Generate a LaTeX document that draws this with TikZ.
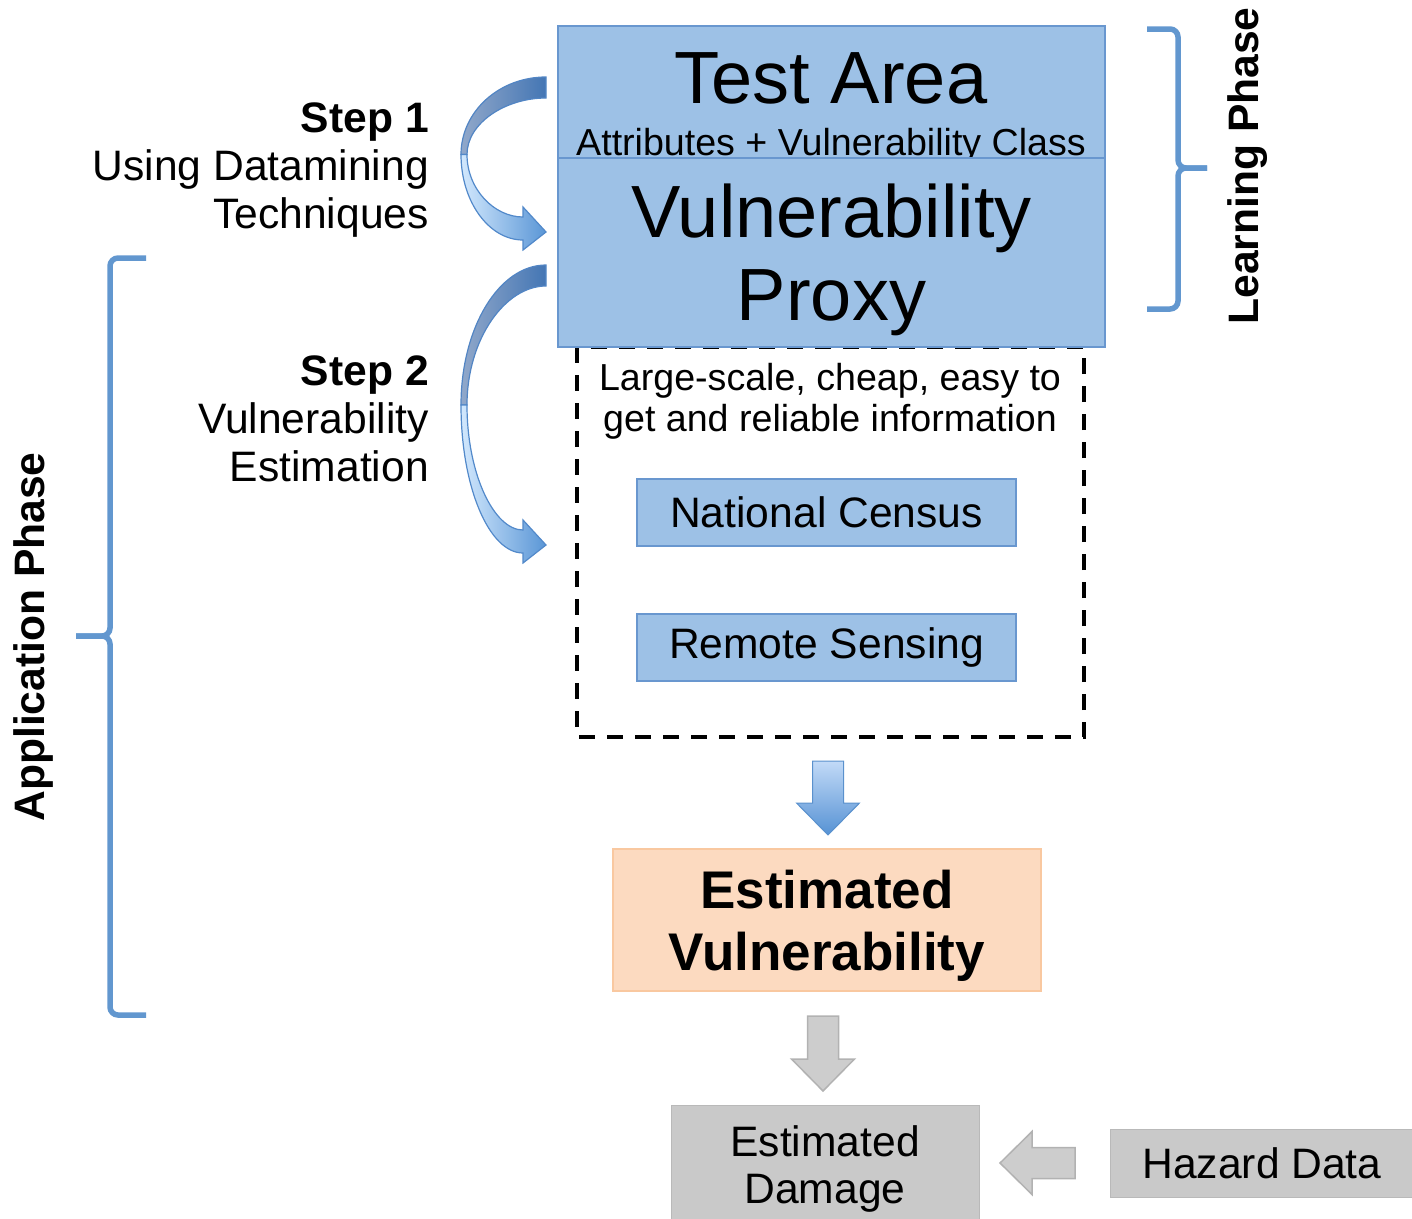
\documentclass[tikz,border=0pt]{standalone}
\usepackage{fontspec}
\setmainfont{Liberation Sans}
\usetikzlibrary{positioning}

\definecolor{proxyblue}{RGB}{157,193,230}
\definecolor{proxyedge}{RGB}{105,151,207}
\definecolor{bracecol}{RGB}{98,151,207}
\definecolor{vulfill}{RGB}{252,218,192}
\definecolor{vuledge}{RGB}{249,200,160}
\definecolor{boxgray}{RGB}{201,201,201}
\definecolor{edgegray}{RGB}{185,185,185}

% block arrow: tail at (#1,#2), turned by #3, length #4, style #5
\newcommand{\blockarrow}[5]{
	\draw[#5, shift={(#1,#2)}, rotate=#3] (0,-15.5) -- (#4-32,-15.5) -- (#4-32,-31.5) -- (#4,0)
		-- (#4-32,31.5) -- (#4-32,15.5) -- (0,15.5) -- cycle;
}
% curved step arrow: band starts at y=#1, tip at y=#2
\newcommand{\steparrow}[2]{
	\draw[backband] (546,#1) .. controls (499,#1) and (461,{#1+0.224*(#2-#1)}) .. (461,{(#1+#2)/2})
		-- (467,{(#1+#2)/2}) .. controls (467,{#1+21+0.448*((#2-#1)/2-21)}) and (505,#1+21) .. (546,#1+21) -- cycle;
	\draw[frontband] (461,{(#1+#2)/2}) .. controls (461,{(#1+#2)/2+0.552*((#2-#1)/2+8)}) and (489,#2+8) .. (523,#2+8)
		-- (523,#2+18) -- (546,#2) -- (523,#2-25) -- (523,#2-15)
		.. controls (494,#2-15) and (467,{(#1+#2)/2+0.552*((#2-#1)/2-15)}) .. (467,{(#1+#2)/2}) -- cycle;
}

\begin{document}
\begin{tikzpicture}[x=1pt, y=-1pt,
	proxybox/.style={draw=proxyedge, fill=proxyblue, line width=1.6pt, inner sep=0pt},
	sourcebox/.style={proxybox, minimum width=379pt, minimum height=67pt, font=\fontsize{42.6}{48}\selectfont},
	graybox/.style={draw=edgegray, fill=boxgray, line width=1pt, inner sep=0pt, font=\fontsize{42.6}{47}\selectfont, align=center},
	steptext/.style={align=right, inner sep=0pt, font=\fontsize{42.6}{48}\selectfont},
	phasetext/.style={rotate=90, inner sep=0pt, font=\fontsize{42.6}{48}\selectfont\bfseries},
	brace/.style={draw=bracecol, line width=5.5pt, rounded corners=8pt},
	backband/.style={draw={rgb,255:red,82;green,133;blue,196}, line width=1.2pt, left color={rgb,255:red,145;green,168;blue,202}, right color={rgb,255:red,68;green,118;blue,180}},
	frontband/.style={draw={rgb,255:red,82;green,137;blue,202}, line width=1.2pt, left color={rgb,255:red,210;green,232;blue,253}, right color={rgb,255:red,90;green,150;blue,214}},
	bluearrow/.style={draw={rgb,255:red,90;green,145;blue,205}, line width=1pt, top color={rgb,255:red,194;green,218;blue,247}, bottom color={rgb,255:red,86;green,146;blue,212}},
	grayarrow/.style={draw={rgb,255:red,178;green,178;blue,178}, line width=1.5pt, fill={rgb,255:red,205;green,205;blue,205}}]
	\useasboundingbox (0,0) rectangle (1412,1218);

	% data sources
	\draw[black, line width=3.6pt, dash pattern=on 16pt off 12pt] (577,347) rectangle (1084,737);
	\node[align=center, inner sep=0pt, font=\fontsize{37.6}{41}\selectfont] (info) at (830,401) {Large-scale, cheap, easy to\\get and reliable information};
	\node[sourcebox] (census) at (826.5,512.5) {National Census};
	\node[sourcebox] (sensing) at (826.5,647.5) {Remote Sensing};

	% test area and proxy
	\draw[proxybox] (558,26) rectangle (1105,158);
	\node[anchor=base, inner sep=0pt, font=\fontsize{74}{83}\selectfont] (testarea) at (831,103) {Test Area};
	\node[anchor=base, inner sep=0pt, font=\fontsize{37.6}{41}\selectfont] (attrs) at (831,155) {Attributes + Vulnerability Class};
	\node[proxybox, minimum width=547pt, minimum height=189pt, align=center, font=\fontsize{74}{83}\selectfont] (proxy) at (831.5,252.5) {};
	\node[align=center, inner sep=0pt, font=\fontsize{74}{83}\selectfont, anchor=base] (proxytext) at (831.5,320) {Vulnerability\\Proxy};

	% steps
	\steparrow{77}{232}
	\steparrow{265}{545}
	\node[steptext, anchor=base east] (step1) at (429,228) {\textbf{Step 1}\\Using Datamining\\Techniques};
	\node[steptext, anchor=base east] (step2) at (429,481) {\textbf{Step 2}\\Vulnerability\\Estimation};

	% phases
	\draw[brace] (1147,29) -- (1178,29) -- (1178,168) -- (1207,168);
	\draw[brace] (1147,309) -- (1178,309) -- (1178,168) -- (1207,168);
	\node[phasetext] (learning) at (1248,166) {Learning Phase};
	\draw[brace] (146,258) -- (110,258) -- (110,636) -- (76,636);
	\draw[brace] (146,1015) -- (110,1015) -- (110,636) -- (76,636);
	\node[phasetext] (application) at (33,637) {Application Phase};

	% results
	\blockarrow{828}{761}{-90}{74}{bluearrow}
	\node[draw=vuledge, fill=vulfill, line width=1.6pt, minimum width=428pt, minimum height=142pt] (estvul) at (827,920) {};
	\node[align=center, inner sep=0pt, anchor=base, font=\fontsize{53}{62}\selectfont\bfseries] (estvultext) at (827,970) {Estimated\\Vulnerability};
	\blockarrow{823}{1016}{-90}{75}{grayarrow}
	\node[graybox, minimum width=308pt, minimum height=116pt] (damage) at (825,1163) {};
	\node[align=center, inner sep=0pt, anchor=base, font=\fontsize{42.6}{47}\selectfont] (damagetext) at (825,1203) {Estimated\\Damage};
	\blockarrow{1075}{1163}{180}{75}{grayarrow}
	\node[graybox, minimum width=304pt, minimum height=68pt] (hazard) at (1262,1163) {Hazard Data};
\end{tikzpicture}
\end{document}
